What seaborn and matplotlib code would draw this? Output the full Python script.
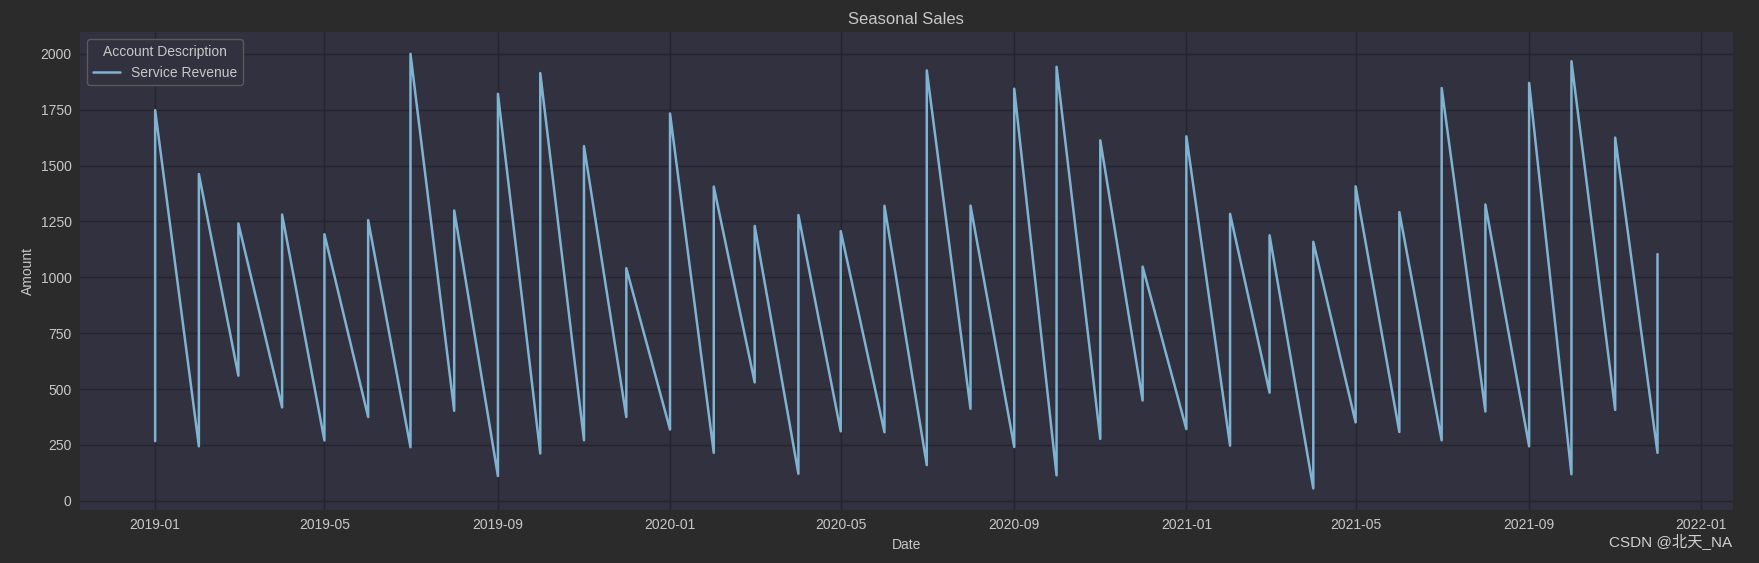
import pandas as pd
import matplotlib.pyplot as plt
import seaborn as sns

# monthly values: each month starts low and jumps up
months = pd.date_range("2019-01-01", "2021-12-01", freq="MS")
low_vals = [267, 244, 560, 418, 270, 375, 240, 403, 111, 212, 271, 375,
            319, 215, 530, 121, 311, 307, 160, 412, 241, 114, 277, 449,
            321, 247, 484, 56, 351, 308, 271, 400, 244, 119, 407, 215]
high_vals = [1748, 1462, 1241, 1281, 1193, 1256, 2000, 1299, 1821, 1914, 1587, 1041,
             1733, 1406, 1230, 1279, 1207, 1320, 1926, 1321, 1844, 1942, 1613, 1048,
             1631, 1284, 1188, 1159, 1407, 1292, 1847, 1326, 1870, 1967, 1625, 1104]
account = "Service Revenue"

rows = []
for d, lo, hi in zip(months, low_vals, high_vals):
    rows.append({"Date": d, "Amount": lo, "Account Description": account})
    rows.append({"Date": d, "Amount": hi, "Account Description": account})
df = pd.DataFrame(rows)

bg = "#2b2b2b"
face = "#31313f"
grid = "#25252f"
txt = "#c8c8c8"

sns.set_theme(style="darkgrid", rc={
    "figure.facecolor": bg,
    "axes.facecolor": face,
    "grid.color": grid,
    "axes.edgecolor": face,
    "text.color": txt,
    "axes.labelcolor": txt,
    "xtick.color": txt,
    "ytick.color": txt,
})
plt.rcParams["font.family"] = ["Liberation Sans", "DejaVu Sans", "Noto Sans CJK SC"]

fig = plt.figure(figsize=(17.59, 5.63), dpi=100)
ax = fig.add_axes([0.0455, 0.094, 0.9395, 0.849])

sns.lineplot(data=df, x="Date", y="Amount", hue="Account Description",
             estimator=None, sort=False, palette=["#80b3d2"], linewidth=1.8, ax=ax)

ax.set_title("Seasonal Sales", fontsize=12, color=txt)
ax.set_xlabel("Date", fontsize=10)
ax.set_ylabel("Amount", fontsize=10)
ax.tick_params(axis="both", labelsize=10, length=0, pad=6)
for s in ax.spines.values():
    s.set_visible(False)

leg = ax.legend(title="Account Description", loc="upper left", fontsize=10,
                title_fontsize=10, facecolor=face, edgecolor="#5a5a5a", framealpha=1)
for t in leg.get_texts():
    t.set_color(txt)
leg.get_title().set_color(txt)

fig.text(0.985, 0.025, "CSDN @北天_NA", ha="right", va="bottom", fontsize=11,
         color="#d0d0d0")

fig.savefig("out.png", facecolor=bg)
